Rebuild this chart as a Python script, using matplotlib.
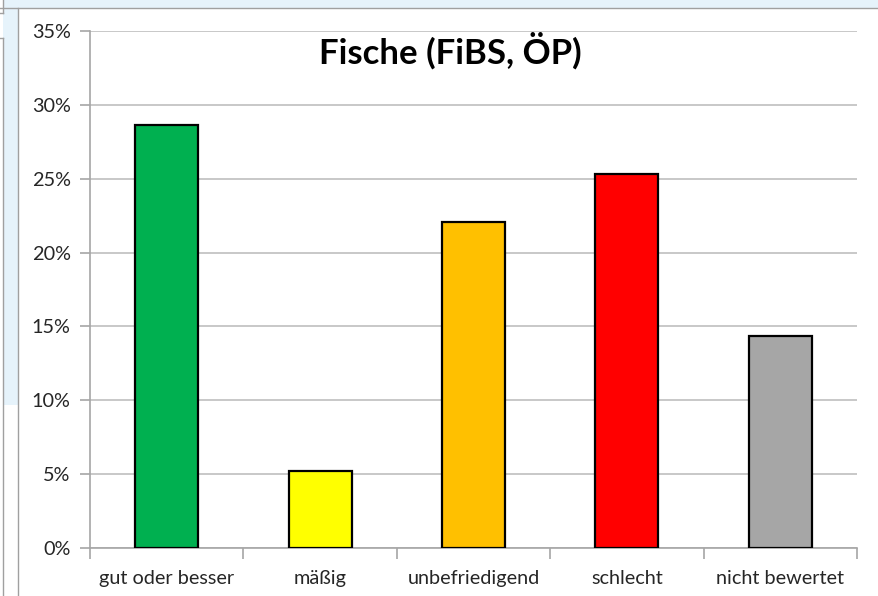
import matplotlib
matplotlib.use("Agg")
import matplotlib.pyplot as plt
from matplotlib.patches import Rectangle
from matplotlib.lines import Line2D
from matplotlib.ticker import FuncFormatter, MultipleLocator

categories = ["gut oder besser", "mäßig", "unbefriedigend", "schlecht", "nicht bewertet"]
values = [28.65, 5.2, 22.05, 25.35, 14.35]
colors = ["#00B050", "#FFFF00", "#FFC000", "#FF0000", "#A6A6A6"]
title = "Fische (FiBS, ÖP)"

W, H = 879, 596
fig = plt.figure(figsize=(W / 100, H / 100), dpi=100)
fig.patch.set_facecolor("white")

def fx(x):
    return x / W

def fy(y):
    return 1 - y / H

# screenshot frame decorations
fig.add_artist(Rectangle((0, fy(8)), 1, 8 / H, transform=fig.transFigure,
                         facecolor="#E6F3FB", edgecolor="none", zorder=0))
fig.add_artist(Rectangle((fx(3), fy(405)), 15 / W, (405 - 8) / H, transform=fig.transFigure,
                         facecolor="#E6F3FB", edgecolor="none", zorder=0))
fig.add_artist(Rectangle((0, fy(13)), 3 / W, 13 / H, transform=fig.transFigure,
                         facecolor="white", edgecolor="none", zorder=0))
fig.add_artist(Line2D([0, 1], [fy(7.5), fy(7.5)], transform=fig.transFigure,
                      color="#A0A0A0", lw=1))
fig.add_artist(Line2D([fx(18.5), fx(18.5)], [0, fy(7.5)], transform=fig.transFigure,
                      color="#A0A0A0", lw=1))
fig.add_artist(Line2D([fx(3.5), fx(3.5)], [0, fy(38)], transform=fig.transFigure,
                      color="#A0A0A0", lw=1))
fig.add_artist(Line2D([fx(3.5), fx(3.5)], [fy(13), 1], transform=fig.transFigure,
                      color="#A0A0A0", lw=1))
fig.add_artist(Line2D([0, fx(3.5)], [fy(13), fy(13)], transform=fig.transFigure,
                      color="#A0A0A0", lw=1))
fig.add_artist(Line2D([0, fx(3.5)], [fy(38), fy(38)], transform=fig.transFigure,
                      color="#A0A0A0", lw=1))

left, right, top, bottom = 90, 857, 31, 548
ax = fig.add_axes([fx(left), fy(bottom), (right - left) / W, (bottom - top) / H])
ax.set_facecolor("white")

x = range(len(categories))
ax.bar(x, values, width=0.41, color=colors, edgecolor="black", linewidth=1.6, zorder=3)

ax.set_xlim(-0.5, len(categories) - 0.5)
ax.set_ylim(0, 35)
ax.yaxis.set_major_locator(MultipleLocator(5))
ax.yaxis.set_major_formatter(FuncFormatter(lambda v, p: f"{v:.0f}%"))
ax.grid(axis="y", color="#BFBFBF", lw=1.2, zorder=0)
ax.set_axisbelow(True)

for s in ["top", "right"]:
    ax.spines[s].set_visible(False)
for s in ["left", "bottom"]:
    ax.spines[s].set_color("#A6A6A6")
    ax.spines[s].set_linewidth(1.2)

font = "Lato"
ax.set_xticks(list(x))
ax.set_xticklabels(categories, fontsize=14.3, family=font, color="#262626")
ax.tick_params(axis="x", length=0, pad=16)
# category separator ticks
ax.set_xticks([i - 0.5 for i in range(len(categories) + 1)], minor=True)
ax.tick_params(axis="x", which="minor", length=8, color="#A6A6A6", width=1.2)
ax.tick_params(axis="y", length=7, color="#A6A6A6", width=1.2, pad=7,
               labelsize=14.3, labelcolor="#262626")
for lab in ax.get_yticklabels():
    lab.set_family(font)

fig.text(fx(450), fy(51), title, ha="center", va="center", fontsize=25,
         fontweight="bold", family=font, color="black")

fig.savefig("out.png", dpi=100, facecolor="white")
